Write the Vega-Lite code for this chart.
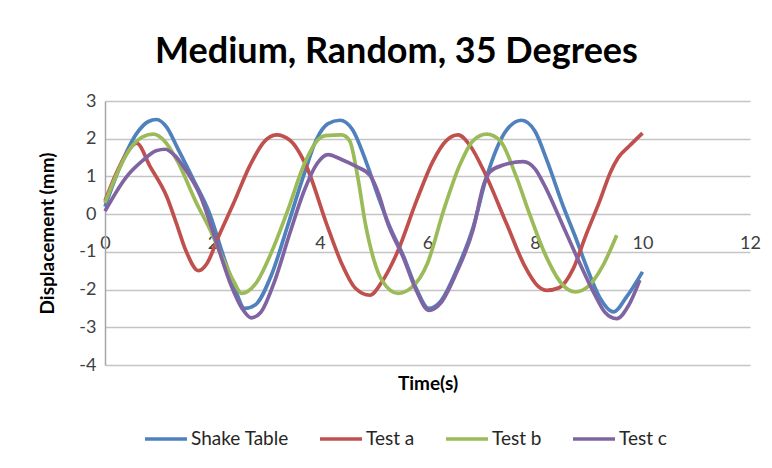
{
  "$schema": "https://vega.github.io/schema/vega-lite/v6.json",
  "width": 645,
  "height": 264,
  "autosize": {"type": "none"},
  "padding": {"left": 105, "top": 101, "right": 22, "bottom": 103},
  "background": "white",
  "title": {"text": "Medium, Random, 35 Degrees", "font": "Lato", "fontSize": 36, "fontWeight": "bold", "color": "#000000", "anchor": "middle", "dx": -31, "offset": 21},
  "data": {"values": [
    {"series": "Shake Table", "time": 0, "disp": 0.2},
    {"series": "Shake Table", "time": 0.28, "disp": 1.26},
    {"series": "Shake Table", "time": 0.59, "disp": 2.14},
    {"series": "Shake Table", "time": 0.8, "disp": 2.45},
    {"series": "Shake Table", "time": 0.96, "disp": 2.51},
    {"series": "Shake Table", "time": 1.15, "disp": 2.3},
    {"series": "Shake Table", "time": 1.35, "disp": 1.75},
    {"series": "Shake Table", "time": 1.65, "disp": 0.9},
    {"series": "Shake Table", "time": 1.95, "disp": 0.0},
    {"series": "Shake Table", "time": 2.2, "disp": -1.1},
    {"series": "Shake Table", "time": 2.4, "disp": -1.9},
    {"series": "Shake Table", "time": 2.6, "disp": -2.5},
    {"series": "Shake Table", "time": 2.8, "disp": -2.4},
    {"series": "Shake Table", "time": 3.1, "disp": -1.6},
    {"series": "Shake Table", "time": 3.4, "disp": -0.3},
    {"series": "Shake Table", "time": 3.69, "disp": 1.0},
    {"series": "Shake Table", "time": 3.94, "disp": 2.0},
    {"series": "Shake Table", "time": 4.15, "disp": 2.4},
    {"series": "Shake Table", "time": 4.37, "disp": 2.49},
    {"series": "Shake Table", "time": 4.6, "disp": 2.25},
    {"series": "Shake Table", "time": 4.87, "disp": 1.34},
    {"series": "Shake Table", "time": 5.1, "disp": 0.4},
    {"series": "Shake Table", "time": 5.3, "disp": -0.34},
    {"series": "Shake Table", "time": 5.55, "disp": -1.1},
    {"series": "Shake Table", "time": 5.8, "disp": -2.0},
    {"series": "Shake Table", "time": 6.02, "disp": -2.5},
    {"series": "Shake Table", "time": 6.25, "disp": -2.3},
    {"series": "Shake Table", "time": 6.54, "disp": -1.49},
    {"series": "Shake Table", "time": 6.85, "disp": -0.34},
    {"series": "Shake Table", "time": 7.1, "disp": 0.99},
    {"series": "Shake Table", "time": 7.47, "disp": 2.23},
    {"series": "Shake Table", "time": 7.75, "disp": 2.49},
    {"series": "Shake Table", "time": 8.0, "disp": 2.2},
    {"series": "Shake Table", "time": 8.22, "disp": 1.43},
    {"series": "Shake Table", "time": 8.53, "disp": 0.19},
    {"series": "Shake Table", "time": 8.75, "disp": -0.6},
    {"series": "Shake Table", "time": 8.96, "disp": -1.4},
    {"series": "Shake Table", "time": 9.2, "disp": -2.2},
    {"series": "Shake Table", "time": 9.46, "disp": -2.59},
    {"series": "Shake Table", "time": 9.7, "disp": -2.2},
    {"series": "Shake Table", "time": 10.0, "disp": -1.53},

    {"series": "Test a", "time": 0, "disp": 0.35},
    {"series": "Test a", "time": 0.2, "disp": 1.05},
    {"series": "Test a", "time": 0.4, "disp": 1.6},
    {"series": "Test a", "time": 0.59, "disp": 1.88},
    {"series": "Test a", "time": 0.84, "disp": 1.26},
    {"series": "Test a", "time": 1.15, "disp": 0.46},
    {"series": "Test a", "time": 1.33, "disp": -0.25},
    {"series": "Test a", "time": 1.5, "disp": -0.95},
    {"series": "Test a", "time": 1.74, "disp": -1.5},
    {"series": "Test a", "time": 1.9, "disp": -1.3},
    {"series": "Test a", "time": 2.11, "disp": -0.6},
    {"series": "Test a", "time": 2.39, "disp": 0.28},
    {"series": "Test a", "time": 2.7, "disp": 1.3},
    {"series": "Test a", "time": 2.95, "disp": 1.9},
    {"series": "Test a", "time": 3.19, "disp": 2.1},
    {"series": "Test a", "time": 3.44, "disp": 1.96},
    {"series": "Test a", "time": 3.75, "disp": 1.26},
    {"series": "Test a", "time": 4.12, "disp": -0.25},
    {"series": "Test a", "time": 4.4, "disp": -1.3},
    {"series": "Test a", "time": 4.65, "disp": -1.95},
    {"series": "Test a", "time": 4.93, "disp": -2.15},
    {"series": "Test a", "time": 5.15, "disp": -1.8},
    {"series": "Test a", "time": 5.43, "disp": -1.04},
    {"series": "Test a", "time": 5.8, "disp": 0.37},
    {"series": "Test a", "time": 6.1, "disp": 1.4},
    {"series": "Test a", "time": 6.35, "disp": 1.95},
    {"series": "Test a", "time": 6.57, "disp": 2.1},
    {"series": "Test a", "time": 6.8, "disp": 1.8},
    {"series": "Test a", "time": 7.04, "disp": 1.17},
    {"series": "Test a", "time": 7.47, "disp": -0.25},
    {"series": "Test a", "time": 7.8, "disp": -1.35},
    {"series": "Test a", "time": 8.05, "disp": -1.9},
    {"series": "Test a", "time": 8.22, "disp": -2.02},
    {"series": "Test a", "time": 8.45, "disp": -1.95},
    {"series": "Test a", "time": 8.71, "disp": -1.45},
    {"series": "Test a", "time": 8.95, "disp": -0.55},
    {"series": "Test a", "time": 9.21, "disp": 0.37},
    {"series": "Test a", "time": 9.4, "disp": 1.1},
    {"series": "Test a", "time": 9.55, "disp": 1.5},
    {"series": "Test a", "time": 9.75, "disp": 1.8},
    {"series": "Test a", "time": 10.0, "disp": 2.15},

    {"series": "Test b", "time": 0, "disp": 0.3},
    {"series": "Test b", "time": 0.2, "disp": 1.0},
    {"series": "Test b", "time": 0.45, "disp": 1.7},
    {"series": "Test b", "time": 0.7, "disp": 2.05},
    {"series": "Test b", "time": 0.9, "disp": 2.12},
    {"series": "Test b", "time": 1.1, "disp": 1.95},
    {"series": "Test b", "time": 1.35, "disp": 1.4},
    {"series": "Test b", "time": 1.7, "disp": 0.3},
    {"series": "Test b", "time": 1.95, "disp": -0.4},
    {"series": "Test b", "time": 2.2, "disp": -1.2},
    {"series": "Test b", "time": 2.4, "disp": -1.8},
    {"series": "Test b", "time": 2.54, "disp": -2.1},
    {"series": "Test b", "time": 2.8, "disp": -1.85},
    {"series": "Test b", "time": 3.1, "disp": -1.0},
    {"series": "Test b", "time": 3.4, "disp": 0.1},
    {"series": "Test b", "time": 3.7, "disp": 1.3},
    {"series": "Test b", "time": 3.95, "disp": 1.95},
    {"series": "Test b", "time": 4.1, "disp": 2.08},
    {"series": "Test b", "time": 4.4, "disp": 2.1},
    {"series": "Test b", "time": 4.55, "disp": 1.95},
    {"series": "Test b", "time": 4.7, "disp": 1.0},
    {"series": "Test b", "time": 4.85, "disp": -0.3},
    {"series": "Test b", "time": 5.0, "disp": -1.2},
    {"series": "Test b", "time": 5.15, "disp": -1.75},
    {"series": "Test b", "time": 5.45, "disp": -2.1},
    {"series": "Test b", "time": 5.7, "disp": -1.95},
    {"series": "Test b", "time": 6.0, "disp": -1.3},
    {"series": "Test b", "time": 6.3, "disp": 0.1},
    {"series": "Test b", "time": 6.6, "disp": 1.3},
    {"series": "Test b", "time": 6.85, "disp": 1.95},
    {"series": "Test b", "time": 7.1, "disp": 2.12},
    {"series": "Test b", "time": 7.35, "disp": 1.95},
    {"series": "Test b", "time": 7.65, "disp": 1.0},
    {"series": "Test b", "time": 7.9, "disp": 0.0},
    {"series": "Test b", "time": 8.2, "disp": -1.1},
    {"series": "Test b", "time": 8.5, "disp": -1.85},
    {"series": "Test b", "time": 8.75, "disp": -2.06},
    {"series": "Test b", "time": 9.0, "disp": -1.9},
    {"series": "Test b", "time": 9.25, "disp": -1.4},
    {"series": "Test b", "time": 9.52, "disp": -0.56},

    {"series": "Test c", "time": 0, "disp": 0.08},
    {"series": "Test c", "time": 0.4, "disp": 0.99},
    {"series": "Test c", "time": 0.71, "disp": 1.43},
    {"series": "Test c", "time": 0.95, "disp": 1.68},
    {"series": "Test c", "time": 1.12, "disp": 1.72},
    {"series": "Test c", "time": 1.3, "disp": 1.55},
    {"series": "Test c", "time": 1.46, "disp": 1.26},
    {"series": "Test c", "time": 1.77, "disp": 0.5},
    {"series": "Test c", "time": 2.08, "disp": -0.78},
    {"series": "Test c", "time": 2.35, "disp": -1.9},
    {"series": "Test c", "time": 2.55, "disp": -2.5},
    {"series": "Test c", "time": 2.72, "disp": -2.75},
    {"series": "Test c", "time": 2.9, "disp": -2.6},
    {"series": "Test c", "time": 3.15, "disp": -1.8},
    {"series": "Test c", "time": 3.44, "disp": -0.5},
    {"series": "Test c", "time": 3.7, "disp": 0.6},
    {"series": "Test c", "time": 3.95, "disp": 1.35},
    {"series": "Test c", "time": 4.15, "disp": 1.58},
    {"series": "Test c", "time": 4.4, "disp": 1.45},
    {"series": "Test c", "time": 4.68, "disp": 1.26},
    {"series": "Test c", "time": 4.93, "disp": 1.03},
    {"series": "Test c", "time": 5.1, "disp": 0.5},
    {"series": "Test c", "time": 5.24, "disp": -0.16},
    {"series": "Test c", "time": 5.55, "disp": -1.15},
    {"series": "Test c", "time": 5.8, "disp": -2.05},
    {"series": "Test c", "time": 6.02, "disp": -2.55},
    {"series": "Test c", "time": 6.25, "disp": -2.35},
    {"series": "Test c", "time": 6.54, "disp": -1.55},
    {"series": "Test c", "time": 6.85, "disp": -0.4},
    {"series": "Test c", "time": 7.05, "disp": 0.8},
    {"series": "Test c", "time": 7.16, "disp": 1.12},
    {"series": "Test c", "time": 7.41, "disp": 1.3},
    {"series": "Test c", "time": 7.78, "disp": 1.39},
    {"series": "Test c", "time": 8.0, "disp": 1.2},
    {"series": "Test c", "time": 8.16, "disp": 0.81},
    {"series": "Test c", "time": 8.53, "disp": -0.34},
    {"series": "Test c", "time": 8.8, "disp": -1.2},
    {"series": "Test c", "time": 9.1, "disp": -2.1},
    {"series": "Test c", "time": 9.3, "disp": -2.6},
    {"series": "Test c", "time": 9.52, "disp": -2.77},
    {"series": "Test c", "time": 9.75, "disp": -2.4},
    {"series": "Test c", "time": 9.95, "disp": -1.75}
  ]},
  "mark": {"type": "line", "interpolate": "monotone", "strokeWidth": 3.7},
  "encoding": {
    "x": {
      "field": "time", "type": "quantitative",
      "scale": {"domain": [0, 12], "nice": false, "zero": false},
      "axis": {
        "values": [0, 2, 4, 6, 8, 10, 12],
        "labelExpr": "'' + datum.value",
        "offset": -151, "domain": false, "ticks": false, "grid": false,
        "labelFont": "Lato", "labelFontSize": 18, "labelColor": "#404040",
        "labelPadding": 20, "labelFlush": false,
        "title": "Time(s)", "titleFont": "Lato", "titleFontSize": 19, "titleFontWeight": "bold",
        "titleColor": "#000000", "titleY": 160, "titleBaseline": "top"
      }
    },
    "y": {
      "field": "disp", "type": "quantitative",
      "scale": {"domain": [-4, 3], "nice": false},
      "axis": {
        "values": [-4, -3, -2, -1, 0, 1, 2, 3],
        "labelExpr": "'' + datum.value",
        "grid": true, "gridColor": "#C4C4C4", "gridWidth": 1.5,
        "domain": true, "domainColor": "#A6A6A6", "domainWidth": 1.5,
        "ticks": false,
        "labelFont": "Lato", "labelFontSize": 18, "labelColor": "#404040", "labelPadding": 9,
        "title": "Displacement (mm)", "titleFont": "Lato", "titleFontSize": 19, "titleFontWeight": "bold",
        "titleColor": "#000000", "titleX": -48
      }
    },
    "color": {
      "field": "series", "type": "nominal",
      "scale": {"domain": ["Shake Table", "Test a", "Test b", "Test c"], "range": ["#4F81BD", "#C0504D", "#9BBB59", "#8064A2"]},
      "legend": {
        "orient": "none", "legendX": 38, "legendY": 315, "direction": "horizontal", "title": null,
        "symbolType": "stroke", "symbolSize": 1764, "symbolStrokeWidth": 3.5,
        "labelFont": "Lato", "labelFontSize": 19, "labelColor": "#262626",
        "columnPadding": 24, "labelOffset": 2, "padding": 0
      }
    }
  },
  "config": {"view": {"stroke": null}}
}
